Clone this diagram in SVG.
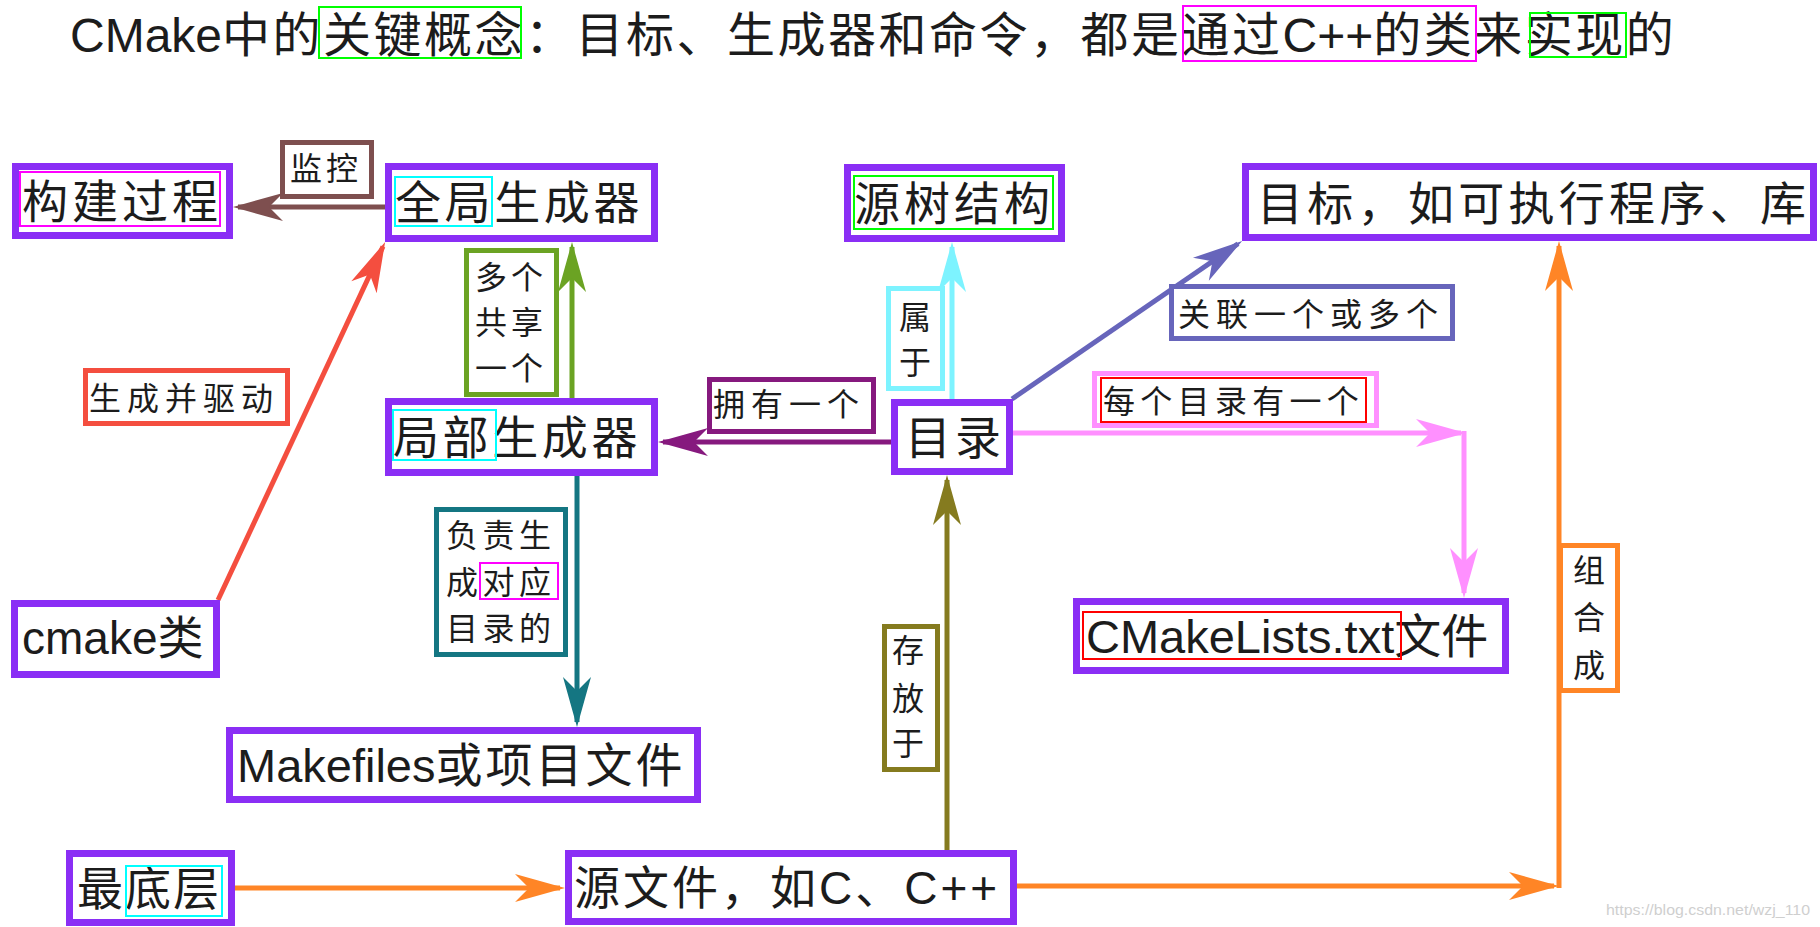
<svg xmlns="http://www.w3.org/2000/svg" width="1820" height="927" viewBox="0 0 1820 927">
<style>
.bg{fill:#fff}
.node rect.box{fill:#fff;stroke:#8a2ef5;stroke-width:7}
.t{font-family:"Liberation Sans","Noto Sans CJK SC",sans-serif;fill:#1c1c1c}
.nt{font-size:46px}
.lt{font-size:32px}
rect.hl{fill:none;stroke-width:2}
.mag{stroke:#ff00ff}.cya{stroke:#00ffff}.grn{stroke:#00ff00}.red{stroke:#ff0000}
.conn path{fill:none;stroke-width:5}
.conn rect.lb{fill:#fff;stroke-width:5}
</style>
<defs>
<marker id="m-brown" viewBox="-50 -16 56 32" refX="0" refY="0" markerWidth="56" markerHeight="32" markerUnits="userSpaceOnUse" orient="auto"><path d="M5,0 L-45,-14 L-31,0 L-45,14 Z" fill="#7e4f4f"/></marker>
<marker id="m-red" viewBox="-50 -16 56 32" refX="0" refY="0" markerWidth="56" markerHeight="32" markerUnits="userSpaceOnUse" orient="auto"><path d="M5,0 L-45,-14 L-31,0 L-45,14 Z" fill="#f44e3f"/></marker>
<marker id="m-green" viewBox="-50 -16 56 32" refX="0" refY="0" markerWidth="56" markerHeight="32" markerUnits="userSpaceOnUse" orient="auto"><path d="M5,0 L-45,-14 L-31,0 L-45,14 Z" fill="#6ba323"/></marker>
<marker id="m-cyan" viewBox="-50 -16 56 32" refX="0" refY="0" markerWidth="56" markerHeight="32" markerUnits="userSpaceOnUse" orient="auto"><path d="M5,0 L-45,-14 L-31,0 L-45,14 Z" fill="#7df3ff"/></marker>
<marker id="m-dpurple" viewBox="-50 -16 56 32" refX="0" refY="0" markerWidth="56" markerHeight="32" markerUnits="userSpaceOnUse" orient="auto"><path d="M5,0 L-45,-14 L-31,0 L-45,14 Z" fill="#86197e"/></marker>
<marker id="m-slate" viewBox="-50 -16 56 32" refX="0" refY="0" markerWidth="56" markerHeight="32" markerUnits="userSpaceOnUse" orient="auto"><path d="M5,0 L-45,-14 L-31,0 L-45,14 Z" fill="#6765bb"/></marker>
<marker id="m-pink" viewBox="-50 -16 56 32" refX="0" refY="0" markerWidth="56" markerHeight="32" markerUnits="userSpaceOnUse" orient="auto"><path d="M5,0 L-45,-14 L-31,0 L-45,14 Z" fill="#ff90ff"/></marker>
<marker id="m-teal" viewBox="-50 -16 56 32" refX="0" refY="0" markerWidth="56" markerHeight="32" markerUnits="userSpaceOnUse" orient="auto"><path d="M5,0 L-45,-14 L-31,0 L-45,14 Z" fill="#147682"/></marker>
<marker id="m-olive" viewBox="-50 -16 56 32" refX="0" refY="0" markerWidth="56" markerHeight="32" markerUnits="userSpaceOnUse" orient="auto"><path d="M5,0 L-45,-14 L-31,0 L-45,14 Z" fill="#857b1f"/></marker>
<marker id="m-orange" viewBox="-50 -16 56 32" refX="0" refY="0" markerWidth="56" markerHeight="32" markerUnits="userSpaceOnUse" orient="auto"><path d="M5,0 L-45,-14 L-31,0 L-45,14 Z" fill="#ff8526"/></marker>
</defs>
<rect class="bg" x="0" y="0" width="1820" height="927"/>

<g id="title">
<text class="t" x="70" y="52" font-size="48"><tspan>CMake</tspan><tspan letter-spacing="2.5">中的关键概念：目标、生成器和命令，都是通过</tspan><tspan>C++</tspan><tspan letter-spacing="2.5">的类来实现的</tspan></text>
<rect class="hl grn" x="319" y="7" width="202" height="51"/>
<rect class="hl mag" x="1183" y="6" width="293" height="55"/>
<rect class="hl grn" x="1530" y="13" width="96" height="44"/>
</g>

<g id="connectors" class="conn">
<g id="c-jiankong">
<path d="M385,207 L238,207" stroke="#7e4f4f" marker-end="url(#m-brown)"/>
<rect class="lb" x="282.5" y="142.5" width="89" height="54" stroke="#7e4f4f"/>
<text class="t lt" x="290" y="180" letter-spacing="4">监控</text>
</g>
<g id="c-shengcheng">
<path d="M218,600 L383,246.5" stroke="#f44e3f" marker-end="url(#m-red)"/>
<rect class="lb" x="85.5" y="370.5" width="202" height="53" stroke="#f44e3f"/>
<text class="t lt" x="89" y="410" letter-spacing="6">生成并驱动</text>
</g>
<g id="c-gongxiang">
<path d="M572,398 L572,247" stroke="#6ba323" marker-end="url(#m-green)"/>
<rect class="lb" x="466.5" y="250.5" width="90" height="144" stroke="#6ba323"/>
<text class="t lt" letter-spacing="4"><tspan x="475" y="289">多个</tspan><tspan x="475" y="334">共享</tspan><tspan x="475" y="380">一个</tspan></text>
</g>
<g id="c-shuyu">
<path d="M952,399 L952,247" stroke="#7df3ff" marker-end="url(#m-cyan)"/>
<rect class="lb" x="888.5" y="288.5" width="54" height="100" stroke="#7df3ff"/>
<text class="t lt"><tspan x="899" y="329">属</tspan><tspan x="899" y="374">于</tspan></text>
</g>
<g id="c-yongyou">
<path d="M891,442 L663,442" stroke="#86197e" marker-end="url(#m-dpurple)"/>
<rect class="lb" x="709.5" y="379.5" width="164" height="52" stroke="#86197e"/>
<text class="t lt" x="713" y="416" letter-spacing="6">拥有一个</text>
</g>
<g id="c-guanlian">
<path d="M1012,399 L1238,243.8" stroke="#6765bb" marker-end="url(#m-slate)"/>
<rect class="lb" x="1171.5" y="286.5" width="281" height="52" stroke="#6765bb"/>
<text class="t lt" x="1178" y="326" letter-spacing="6">关联一个或多个</text>
</g>
<g id="c-meige">
<path d="M1013,433 L1461,433" stroke="#ff90ff" marker-end="url(#m-pink)"/>
<path d="M1464,431 L1464,593" stroke="#ff90ff" marker-end="url(#m-pink)"/>
<rect class="lb" x="1094.5" y="373.5" width="282" height="52" stroke="#ff90ff"/>
<rect class="hl red" x="1101" y="378" width="265" height="44"/>
<text class="t lt" x="1103" y="413" letter-spacing="5.3">每个目录有一个</text>
</g>
<g id="c-fuze">
<path d="M577,476 L577,722" stroke="#147682" marker-end="url(#m-teal)"/>
<rect class="lb" x="436.5" y="509.5" width="129" height="145" stroke="#147682"/>
<text class="t lt" letter-spacing="4.5"><tspan x="446" y="547">负责生</tspan><tspan x="446" y="594">成对应</tspan><tspan x="446" y="640">目录的</tspan></text>
<rect class="hl mag" x="480" y="563" width="78" height="36"/>
</g>
<g id="c-cunfang">
<path d="M947,850 L947,480" stroke="#857b1f" marker-end="url(#m-olive)"/>
<rect class="lb" x="884.5" y="626.5" width="53" height="143" stroke="#857b1f"/>
<text class="t lt"><tspan x="892" y="662">存</tspan><tspan x="892" y="710">放</tspan><tspan x="892" y="755">于</tspan></text>
</g>
<g id="c-zuidi">
<path d="M235,888 L560,888" stroke="#ff8526" marker-end="url(#m-orange)"/>
</g>
<g id="c-zuhe">
<path d="M1017,886 L1554,886" stroke="#ff8526" marker-end="url(#m-orange)"/>
<path d="M1559,888 L1559,246" stroke="#ff8526" marker-end="url(#m-orange)"/>
<rect class="lb" x="1560.5" y="545.5" width="57" height="145" stroke="#ff8526"/>
<text class="t lt"><tspan x="1573" y="582">组</tspan><tspan x="1573" y="629">合</tspan><tspan x="1573" y="677">成</tspan></text>
</g>
</g>

<g id="n-goujian" class="node">
<rect class="box" x="15.5" y="166.5" width="214" height="69"/>
<text class="t nt" x="22" y="218" letter-spacing="4">构建过程</text>
<rect class="hl mag" x="20" y="172" width="200" height="54"/>
</g>
<g id="n-quanju" class="node">
<rect class="box" x="388.5" y="166.5" width="266" height="72"/>
<text class="t nt" x="395" y="219" letter-spacing="3.6">全局生成器</text>
<rect class="hl cya" x="395" y="177" width="97" height="49"/>
</g>
<g id="n-yuanshu" class="node">
<rect class="box" x="847.5" y="167.5" width="214" height="71"/>
<text class="t nt" x="854" y="220" letter-spacing="4">源树结构</text>
<rect class="hl grn" x="854" y="176" width="199" height="53"/>
</g>
<g id="n-mubiao" class="node">
<rect class="box" x="1245.5" y="166.5" width="568" height="71"/>
<text class="t nt" x="1257" y="220" textLength="549" lengthAdjust="spacing">目标，如可执行程序、库</text>
</g>
<g id="n-jubu" class="node">
<rect class="box" x="388.5" y="401.5" width="266" height="71"/>
<text class="t nt" x="393" y="454" letter-spacing="3.6">局部生成器</text>
<rect class="hl cya" x="393" y="410" width="103" height="50"/>
</g>
<g id="n-mulu" class="node">
<rect class="box" x="894.5" y="402.5" width="115" height="69"/>
<text class="t nt" x="905" y="454" letter-spacing="4">目录</text>
</g>
<g id="n-cmake" class="node">
<rect class="box" x="14.5" y="603.5" width="202" height="71"/>
<text class="t nt" x="22" y="654" font-size="47">cmake类</text>
</g>
<g id="n-cmakelists" class="node">
<rect class="box" x="1076.5" y="601.5" width="429" height="69"/>
<text class="t" x="1086" y="653" font-size="47">CMakeLists.txt文件</text>
<rect class="hl red" x="1083" y="612" width="318" height="47"/>
</g>
<g id="n-makefiles" class="node">
<rect class="box" x="229.5" y="730.5" width="468" height="69"/>
<text class="t" x="237" y="782" font-size="47"><tspan>Makefiles</tspan><tspan letter-spacing="3">或项目文件</tspan></text>
</g>
<g id="n-zuidi" class="node">
<rect class="box" x="69.5" y="853.5" width="162" height="69"/>
<text class="t nt" x="77" y="905" letter-spacing="2">最底层</text>
<rect class="hl cya" x="126" y="866" width="96" height="50"/>
</g>
<g id="n-yuanwenjian" class="node">
<rect class="box" x="568.5" y="853.5" width="445" height="68"/>
<text class="t" x="574" y="904" font-size="46" letter-spacing="3">源文件，如C、C++</text>
</g>

<text x="1606" y="915" font-family="Liberation Sans, sans-serif" font-size="15" fill="#cfcfcf" textLength="204" lengthAdjust="spacingAndGlyphs">https://blog.csdn.net/wzj_110</text>
</svg>
